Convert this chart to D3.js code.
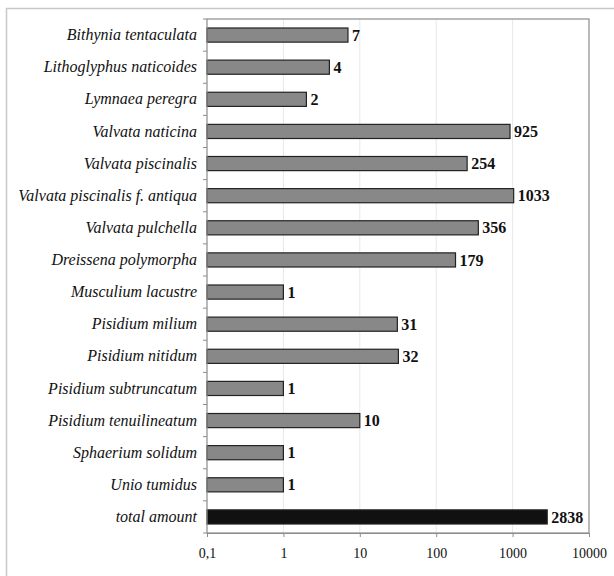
<!DOCTYPE html>
<html>
<head>
<meta charset="utf-8">
<script src="https://cdn.jsdelivr.net/npm/d3@7"></script>
<style>
  html, body { margin: 0; padding: 0; background: #fff; }
  svg { display: block; }
  text { font-family: "Liberation Serif", "Times New Roman", Times, serif; }
</style>
</head>
<body>
<svg id="chart" width="614" height="576"></svg>
<script>
// Species counts (log scale)
const species = [
  "Bithynia tentaculata",
  "Lithoglyphus naticoides",
  "Lymnaea peregra",
  "Valvata naticina",
  "Valvata piscinalis",
  "Valvata piscinalis f. antiqua",
  "Valvata pulchella",
  "Dreissena polymorpha",
  "Musculium lacustre",
  "Pisidium milium",
  "Pisidium nitidum",
  "Pisidium subtruncatum",
  "Pisidium tenuilineatum",
  "Sphaerium solidum",
  "Unio tumidus",
  "total amount"
];
const counts = [7, 4, 2, 925, 254, 1033, 356, 179, 1, 31, 32, 1, 10, 1, 1, 2838];
const tickValues = [0.1, 1, 10, 100, 1000, 10000];
const tickLabels = ["0,1", "1", "10", "100", "1000", "10000"];

const data = species.map((s, i) => ({ name: s, value: counts[i], total: s === "total amount" }));

const serif = "'Liberation Serif', 'Times New Roman', Times, serif";
const svg = d3.select("#chart");
const margin = { left: 207, top: 19, right: 589, bottom: 533 };

// outer frame
svg.append("rect")
  .attr("x", 6.5).attr("y", 8.5)
  .attr("width", 640).attr("height", 600)
  .attr("fill", "none").attr("stroke", "#c8c8c8").attr("stroke-width", 1.5);

const x = d3.scaleLog().domain([0.1, 10000]).range([margin.left, margin.right]);
const y = d3.scaleBand().domain(species).range([margin.top, margin.bottom]).paddingInner(0.56).paddingOuter(0.28);

// vertical gridlines
svg.append("g").selectAll("line")
  .data(tickValues.slice(1, -1))
  .join("line")
  .attr("x1", d => x(d)).attr("x2", d => x(d))
  .attr("y1", margin.top).attr("y2", margin.bottom)
  .attr("stroke", "#e8e8e8").attr("stroke-width", 1);

// bars
svg.append("g").selectAll("rect")
  .data(data)
  .join("rect")
  .attr("x", x(0.1))
  .attr("y", d => y(d.name))
  .attr("width", d => x(d.value) - x(0.1))
  .attr("height", y.bandwidth())
  .attr("fill", d => d.total ? "#111" : "#888")
  .attr("stroke", "#222")
  .attr("stroke-width", 1.2);

// value labels
svg.append("g").selectAll("text")
  .data(data)
  .join("text")
  .attr("x", d => x(d.value) + 4)
  .attr("y", d => y(d.name) + y.bandwidth() / 2)
  .attr("dy", "0.35em")
  .attr("font-family", serif)
  .attr("font-weight", "bold")
  .attr("font-size", 16)
  .attr("fill", "#111")
  .text(d => d.value);

// plot border
svg.append("rect")
  .attr("x", margin.left).attr("y", margin.top)
  .attr("width", margin.right - margin.left).attr("height", margin.bottom - margin.top)
  .attr("fill", "none").attr("stroke", "#8c8c8c").attr("stroke-width", 1.2);

// x axis
const xAxis = d3.axisBottom(x)
  .tickValues(tickValues)
  .tickFormat((d, i) => tickLabels[i])
  .tickSize(4).tickPadding(11);
const gx = svg.append("g").attr("transform", `translate(0,${margin.bottom})`).call(xAxis);
gx.attr("font-family", serif);
gx.select(".domain").attr("stroke", "#8c8c8c");
gx.selectAll(".tick line").attr("stroke", "#8c8c8c");
gx.selectAll("text")
  .attr("font-family", serif)
  .attr("font-size", 14).attr("fill", "#111");

// y axis: category labels and boundary ticks
const yAxis = d3.axisLeft(y).tickSize(0).tickPadding(10);
const gy = svg.append("g").attr("transform", `translate(${margin.left},0)`).call(yAxis);
gy.attr("font-family", serif);
gy.select(".domain").remove();
gy.selectAll("text")
  .attr("font-family", serif)
  .attr("font-style", "italic")
  .attr("font-size", 16).attr("fill", "#111");

const bounds = d3.range(species.length + 1).map(i => margin.top + i * (margin.bottom - margin.top) / species.length);
svg.append("g").selectAll("line")
  .data(bounds)
  .join("line")
  .attr("x1", margin.left - 4).attr("x2", margin.left)
  .attr("y1", d => d).attr("y2", d => d)
  .attr("stroke", "#8c8c8c");
</script>
</body>
</html>
